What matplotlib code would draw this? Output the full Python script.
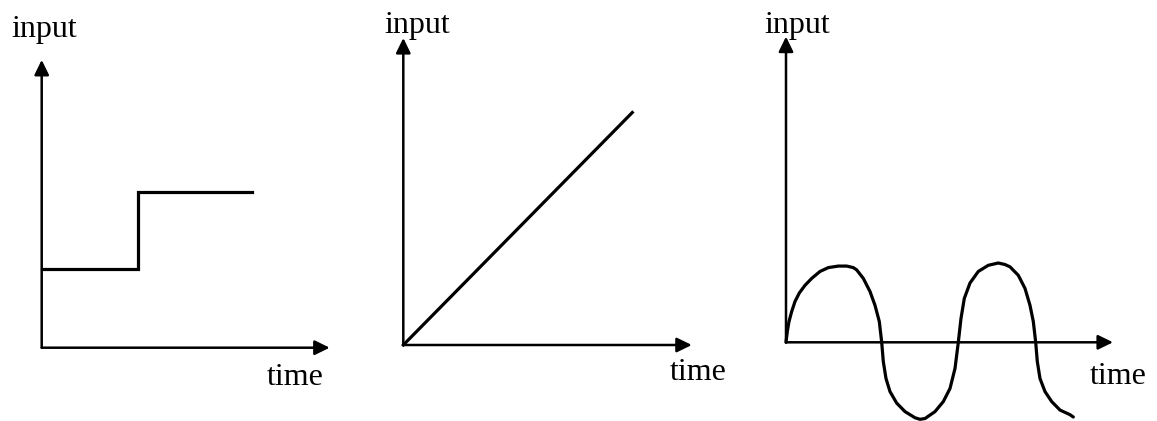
import matplotlib
matplotlib.use("Agg")
import matplotlib.pyplot as plt

W, H = 1157, 421

# ---------------- data ----------------
# Panel 1: step input
step_time = [0.0, 2.0, 2.0, 4.38]
step_input = [1.005, 1.005, 2.0, 2.0]
step_axis_max = (6.0, 3.69)          # arrow tips (time, input)

# Panel 2: ramp input
ramp_time = [0.0, 4.58]
ramp_input = [0.0, 4.65]
ramp_axis_max = (5.77, 6.14)

# Panel 3: sinusoidal input
sine_time = [0.0, 0.13, 0.3, 0.57, 0.9, 1.33, 1.9, 2.57, 3.4, 4.23, 5.23,
             6.07, 6.4, 6.73, 7.07, 7.73, 8.4, 8.9, 9.33, 9.57, 9.73, 10.0,
             10.4, 11.07, 11.9, 12.9, 13.4, 13.9, 14.9, 15.73, 16.4, 16.9,
             17.23, 17.5, 17.83, 18.4, 19.23, 20.23, 21.23, 21.9, 22.4,
             23.23, 23.9, 24.4, 24.73, 24.97, 25.13, 25.4, 25.9, 26.57,
             27.4, 28.4, 28.73]
sine_input = [0.0, 0.14, 0.27, 0.40, 0.53, 0.64, 0.74, 0.83, 0.92, 0.97, 0.99,
              0.99, 0.98, 0.97, 0.94, 0.83, 0.66, 0.48, 0.27, 0.0, -0.25, -0.47,
              -0.64, -0.79, -0.90, -0.98, -1.0, -0.99, -0.90, -0.77, -0.60, -0.34,
              0.0, 0.31, 0.57, 0.77, 0.92, 1.0, 1.03, 1.01, 0.98,
              0.87, 0.70, 0.48, 0.27, 0.0, -0.25, -0.47, -0.64, -0.77,
              -0.88, -0.94, -0.97]
sine_axis_max = (32.7, 3.97)

y_label = "input"
x_label = "time"

# ---------------- layout ----------------
fig = plt.figure(figsize=(W / 100, H / 100), dpi=100)
plt.rcParams['font.family'] = ['Liberation Serif', 'DejaVu Serif']


def make_axes(ox, oy, sx, sy):
    """Full-figure transparent axes whose data origin sits at pixel (ox, oy)."""
    ax = fig.add_axes([0, 0, 1, 1])
    ax.set_xlim(-ox / sx, (W - ox) / sx)
    ax.set_ylim(-(H - oy) / sy, oy / sy)
    ax.axis('off')
    ax.patch.set_alpha(0)
    return ax


def px(ax_params, x, y):
    ox, oy, sx, sy = ax_params
    return (x - ox) / sx, (oy - y) / sy


def draw_axes_arrows(ax, tips):
    style = dict(arrowstyle='-|>,head_length=0.45,head_width=0.22', lw=1.8,
                 color='black', mutation_scale=20, shrinkA=0, shrinkB=0)
    ax.annotate('', xy=(tips[0], 0), xytext=(0, 0), arrowprops=style)
    ax.annotate('', xy=(0, tips[1]), xytext=(0, 0), arrowprops=style)


FS = 23
LW = 2.3

# Panel 1
p1 = (41.7, 347.7, 48.0, 78.0)
ax1 = make_axes(*p1)
draw_axes_arrows(ax1, step_axis_max)
ax1.plot(step_time, step_input, color='black', lw=LW, solid_joinstyle='miter')
ax1.text(*px(p1, 11, 37), y_label, fontsize=FS, ha='left', va='baseline')
ax1.text(*px(p1, 267, 385), x_label, fontsize=FS, ha='left', va='baseline')

# Panel 2
p2 = (403.3, 345.0, 50.0, 50.0)
ax2 = make_axes(*p2)
draw_axes_arrows(ax2, ramp_axis_max)
ax2.plot(ramp_time, ramp_input, color='black', lw=LW)
ax2.text(*px(p2, 384, 33), y_label, fontsize=FS, ha='left', va='baseline')
ax2.text(*px(p2, 670, 380), x_label, fontsize=FS, ha='left', va='baseline')

# Panel 3
p3 = (786.0, 342.3, 10.0, 77.0)
ax3 = make_axes(*p3)
draw_axes_arrows(ax3, sine_axis_max)
ax3.plot(sine_time, sine_input, color='black', lw=LW,
         solid_capstyle='round', solid_joinstyle='round')
ax3.text(*px(p3, 764, 33), y_label, fontsize=FS, ha='left', va='baseline')
ax3.text(*px(p3, 1090, 384), x_label, fontsize=FS, ha='left', va='baseline')

fig.savefig("out.png", dpi=100, facecolor='white')
